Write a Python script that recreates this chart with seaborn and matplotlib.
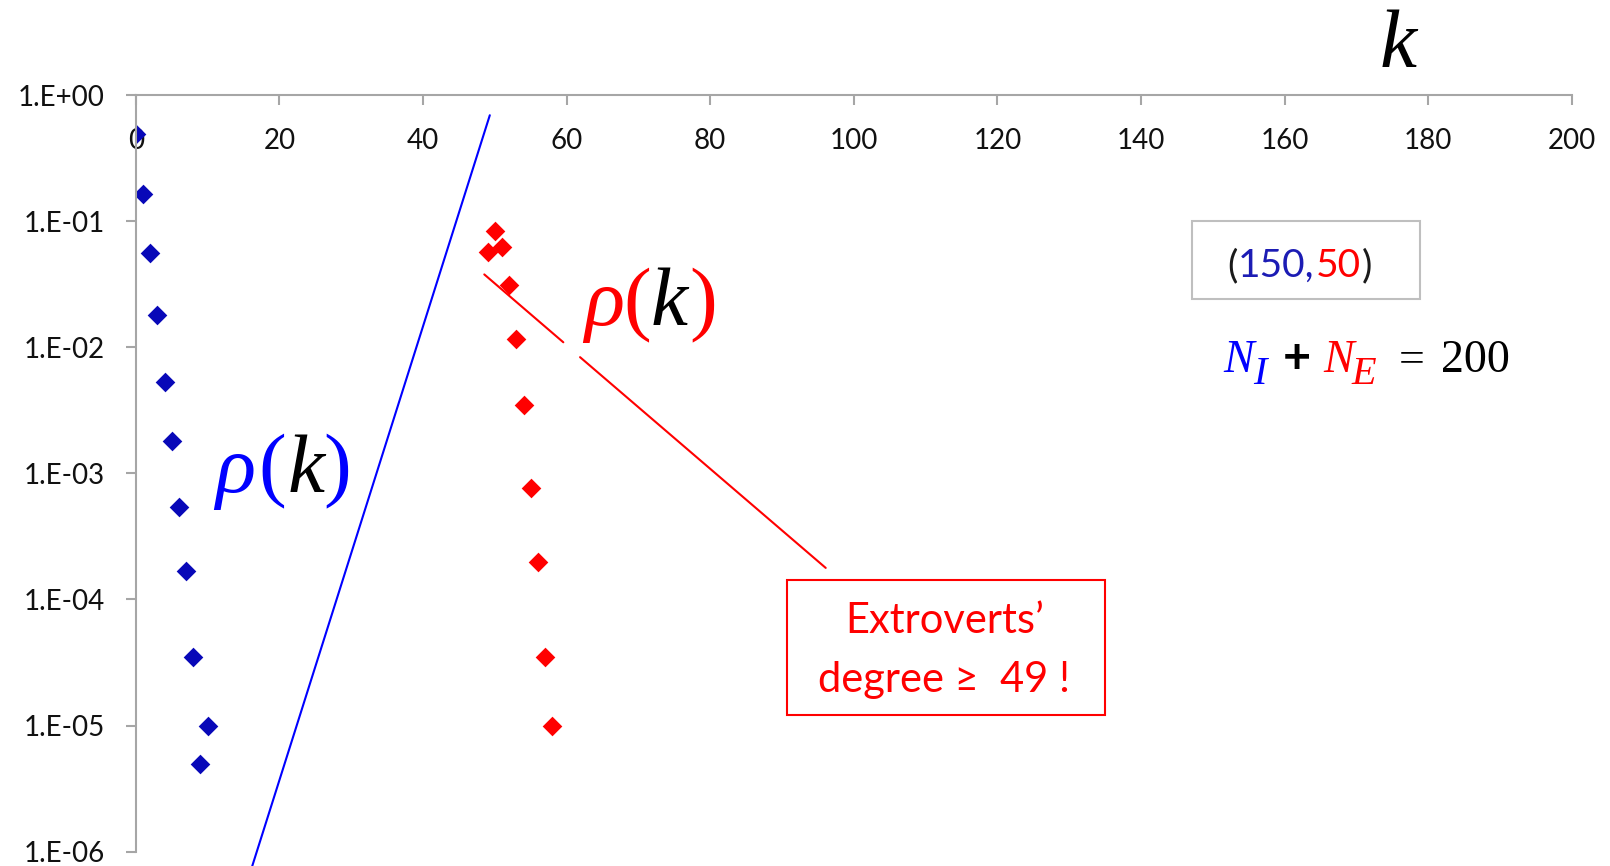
import matplotlib
matplotlib.use("Agg")
import matplotlib.pyplot as plt
from matplotlib.patches import Rectangle
from matplotlib.ticker import FixedLocator, FixedFormatter, NullLocator
import pandas as pd
import seaborn as sns

# Degree distribution rho(k) for introverts (N_I = 150) and extroverts (N_E = 50)
introvert_k = [0, 1, 2, 3, 4, 5, 6, 7, 8, 10, 9]
introvert_rho = [0.497, 0.166, 0.0558, 0.018, 0.00533, 0.0018, 0.000537,
                 0.000167, 3.47e-5, 1.0e-5, 4.95e-6]

extrovert_k = [50, 49, 51, 52, 53, 54, 55, 56, 57, 58]
extrovert_rho = [0.0844, 0.0571, 0.063, 0.0311, 0.01155, 0.00346, 7.7e-4,
                 2.0e-4, 3.49e-5, 1.0e-5]

x_ticks = [0, 20, 40, 60, 80, 100, 120, 140, 160, 180, 200]
x_tick_labels = [str(v) for v in x_ticks]
y_ticks = [1e0, 1e-1, 1e-2, 1e-3, 1e-4, 1e-5, 1e-6]
y_tick_labels = ["1.E+00", "1.E-01", "1.E-02", "1.E-03", "1.E-04", "1.E-05", "1.E-06"]

BLUE_MARK = "#0808B8"
BLUE = "#0000FF"
RED = "#FF0000"
AXIS_GREY = "#A6A6A6"
SERIF = "Liberation Serif"
SANS = ["Lato", "DejaVu Sans"]

sns.set_theme(style="white")
plt.rcParams["font.family"] = SANS

fig = plt.figure(figsize=(16.1, 8.66), dpi=100)
ax = fig.add_axes([0.0844, 0.01663, 0.8918, 0.8734])

intro = pd.DataFrame({"k": introvert_k, "rho": introvert_rho})
extro = pd.DataFrame({"k": extrovert_k, "rho": extrovert_rho})
sns.scatterplot(data=intro, x="k", y="rho", marker="D", s=100, color=BLUE_MARK,
                linewidth=0, ax=ax, zorder=2)
sns.scatterplot(data=extro, x="k", y="rho", marker="D", s=100, color=RED,
                linewidth=0, ax=ax, zorder=2)

ax.set_yscale("log")
ax.set_xlim(0, 200)
ax.set_ylim(1e-6, 1)
ax.set_xlabel("")
ax.set_ylabel("")

# axes: value axis on the left, category axis along the top
for side in ("right", "bottom"):
    ax.spines[side].set_visible(False)
for side in ("left", "top"):
    ax.spines[side].set_color(AXIS_GREY)
    ax.spines[side].set_linewidth(1.5)

ax.xaxis.set_major_locator(FixedLocator(x_ticks))
ax.xaxis.set_major_formatter(FixedFormatter(x_tick_labels))
ax.yaxis.set_major_locator(FixedLocator(y_ticks))
ax.yaxis.set_major_formatter(FixedFormatter(y_tick_labels))
ax.yaxis.set_minor_locator(NullLocator())
ax.xaxis.set_minor_locator(NullLocator())

ax.tick_params(axis="x", top=True, bottom=False, labeltop=True, labelbottom=False,
               direction="in", length=7.2, width=1.5, color=AXIS_GREY,
               pad=-42, labelsize=20, labelcolor="#111111")
ax.tick_params(axis="y", left=True, right=False, direction="out", length=7.2,
               width=1.5, color=AXIS_GREY, pad=15, labelsize=20,
               labelcolor="#111111")
ax.grid(False)

# guide line separating the two groups
ax.plot([49.3, 16.21], [0.694, 7.69e-7], color=BLUE, lw=1.5, clip_on=False, zorder=3)

# callout from the extrovert group to the note box (broken around the label)
ax.plot([48.53, 59.54], [0.0379, 0.01097], color=RED, lw=1.5, zorder=3)
ax.plot([61.87, 96.09], [0.00836, 1.78e-4], color=RED, lw=1.5, zorder=3)


def rich_text(x, y, pieces):
    """Draw coloured pieces one after another on a shared baseline."""
    prev = None
    for txt, color, gap, dy, props in pieces:
        if prev is None:
            prev = ax.annotate(txt, xy=(x, y), xycoords="data", xytext=(gap, dy),
                               textcoords="offset points", color=color,
                               va="baseline", ha="left", annotation_clip=False,
                               **props)
        else:
            prev = ax.annotate(txt, xy=(1, y), xycoords=(prev, "data"),
                               xytext=(gap, dy), textcoords="offset points",
                               color=color, va="baseline", ha="left",
                               annotation_clip=False, **props)
    return prev


big_it = dict(family=SERIF, style="italic", size=60)
big_up = dict(family=SERIF, size=60)

rich_text(11.0, 7.15e-4, [
    ("ρ", BLUE, 0, 0, big_it),
    ("(", BLUE, 2.5, 0, big_up),
    ("k", "black", 1.0, 0, big_it),
    (")", BLUE, -0.5, 0, big_up),
])

rich_text(62.5, 0.015, [
    ("ρ", RED, 0, 0, big_it),
    ("(", RED, -1.2, 0, big_up),
    ("k", "black", 0.0, 0, big_it),
    (")", RED, 1.5, 0, big_up),
])

# axis name
ax.annotate("k", xy=(173.3, 1.68), xycoords="data", va="baseline", ha="left",
            annotation_clip=False, color="black", **big_it)

# (N_I, N_E) tag
ax.add_patch(Rectangle((147.08, 0.0241), 178.9 - 147.08, 0.1002 - 0.0241,
                       fill=False, edgecolor="#BFBFBF", lw=1.5, zorder=3))
tag = dict(family=SANS, size=28)
rich_text(151.96, 0.0362, [
    ("(", "#1a1a1a", 0, 0, tag),
    ("150,", "#1C1CB4", 0.8, 0, tag),
    ("50", RED, 0.6, 0, tag),
    (")", "#1a1a1a", 0.8, 0, tag),
])

# N_I + N_E = 200
eq_it = dict(family=SERIF, style="italic", size=33)
eq_sub = dict(family=SERIF, style="italic", size=29)
eq_up = dict(family=SERIF, size=33)
plus = dict(family=SANS, weight="bold", size=35)
rich_text(151.5, 0.00639, [
    ("N", BLUE, 0, 0, eq_it),
    ("I", BLUE, -1.0, -8.4, eq_sub),
    ("+", "black", 12.0, -1.0, plus),
    ("N", RED, 8.6, 0, eq_it),
    ("E", RED, -1.5, -8.4, eq_sub),
    ("=", "black", 16.0, 0, eq_up),
    ("200", "black", 12.0, 0, eq_up),
])

# note box
ax.add_patch(Rectangle((90.74, 1.22e-5), 135.04 - 90.74, 1.44e-4 - 1.22e-5,
                       fill=False, edgecolor=RED, lw=1.5, zorder=3))
note = dict(family=SANS, size=30, color=RED, ha="center", va="baseline")
ax.text(112.64, 5.45e-5, "Extroverts’", **note)
ax.text(112.64, 1.85e-5, "degree ≥  49 !", **note)

fig.savefig("out.png", dpi=100)
